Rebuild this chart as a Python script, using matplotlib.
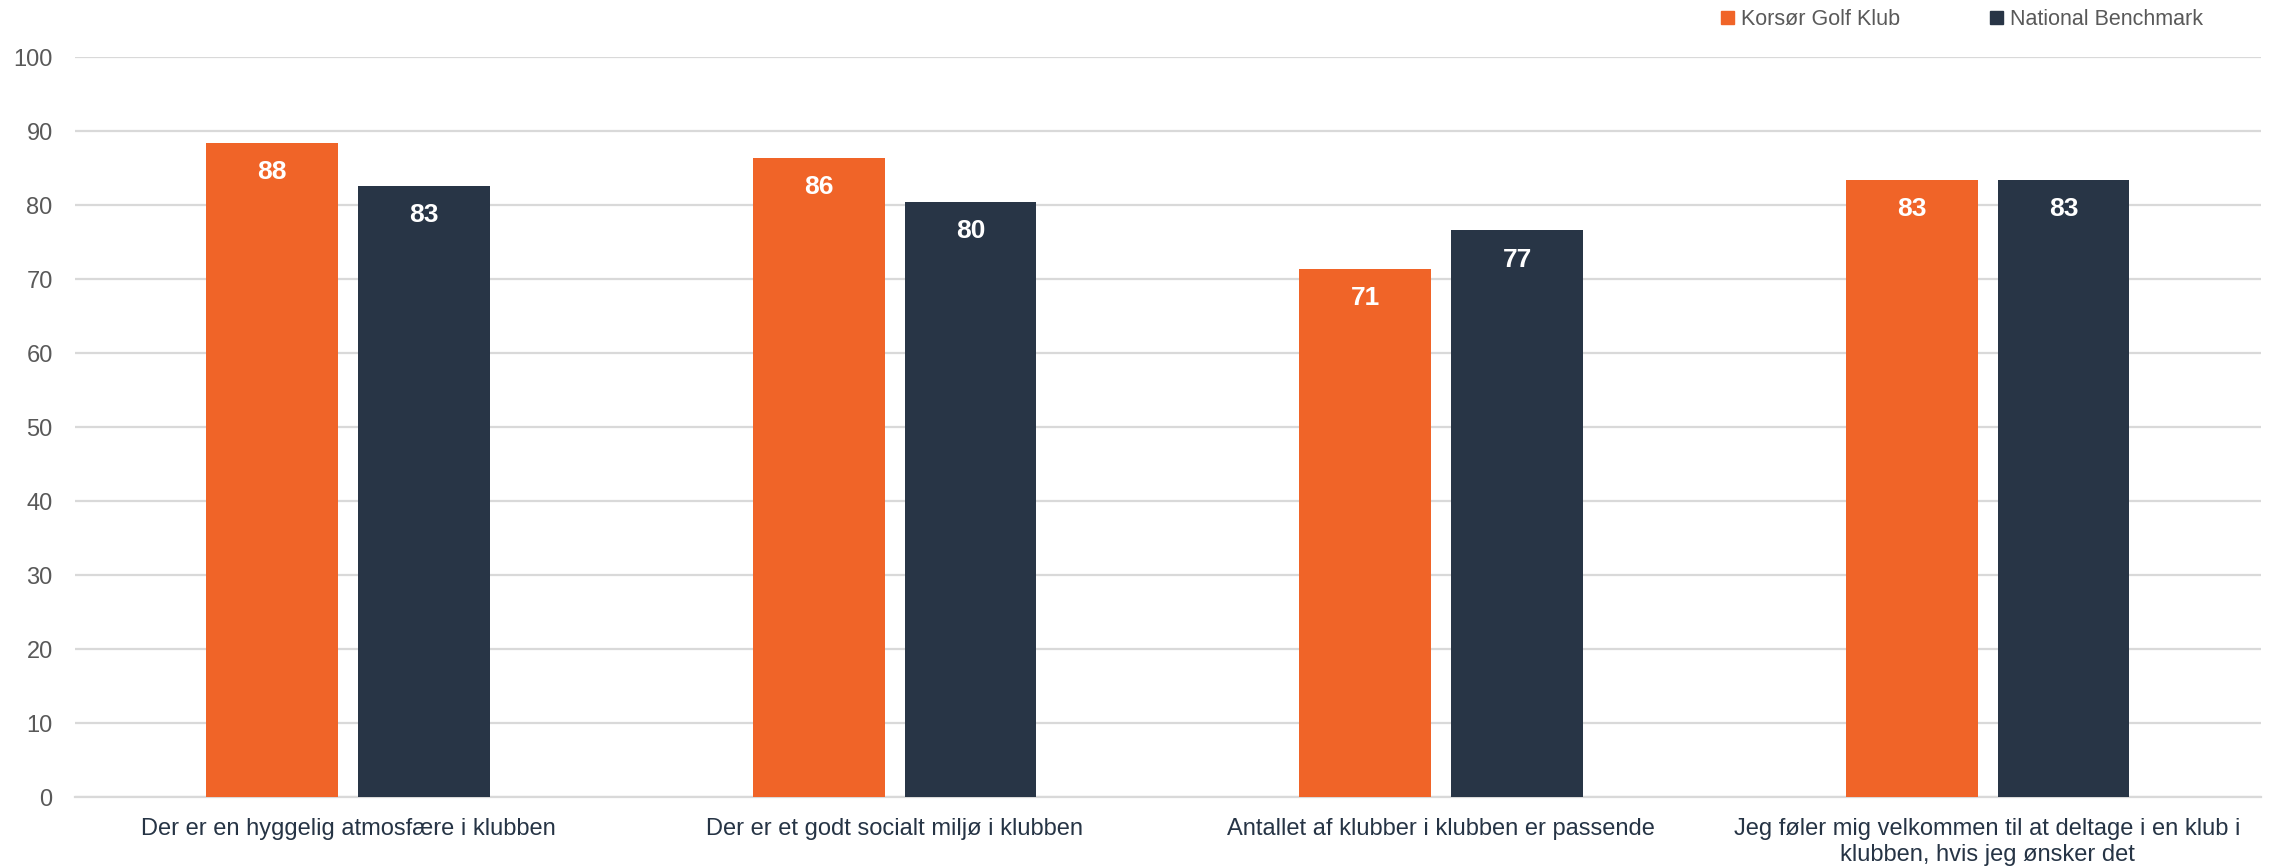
import numpy as np
import matplotlib
matplotlib.use("Agg")
import matplotlib.pyplot as plt
from matplotlib.patches import Patch

plt.rcParams['font.family'] = ['Liberation Sans', 'DejaVu Sans']

# data
categories = [
    "Der er en hyggelig atmosfære i klubben",
    "Der er et godt socialt miljø i klubben",
    "Antallet af klubber i klubben er passende",
    "Jeg føler mig velkommen til at deltage i en klub i\nklubben, hvis jeg ønsker det",
]
series_names = ["Korsør Golf Klub", "National Benchmark"]
korsoer = [88.4, 86.4, 71.4, 83.4]
benchmark = [82.6, 80.4, 76.6, 83.4]
yticks = [0, 10, 20, 30, 40, 50, 60, 70, 80, 90, 100]

orange = "#F06428"
navy = "#283546"

fig = plt.figure(figsize=(22.7, 8.67), dpi=100)
ax = fig.add_axes([0.033, 0.0804, 0.963, 0.8536])

x = np.arange(len(categories))
w = 0.241
off = 0.139
b1 = ax.bar(x - off, korsoer, w, color=orange, zorder=3)
b2 = ax.bar(x + off, benchmark, w, color=navy, zorder=3)

# value labels inside the bar tops
for bars, vals in ((b1, korsoer), (b2, benchmark)):
    for rect, v in zip(bars, vals):
        ax.annotate(f"{round(v):d}", (rect.get_x() + rect.get_width() / 2, v),
                    xytext=(0, -21), textcoords="offset points",
                    ha="center", va="center", color="white",
                    fontsize=19, fontweight="bold", zorder=4)

ax.set_xlim(-0.5, len(categories) - 0.5)
ax.set_ylim(0, 100)
ax.set_yticks(yticks)
ax.set_xticks(x)
ax.set_xticklabels(categories, fontsize=17, color="#263445", linespacing=1.2)
ax.tick_params(axis="y", length=0, pad=16, labelsize=17, labelcolor="#595959")
ax.tick_params(axis="x", length=0, pad=15)

ax.grid(axis="y", color="#d9d9d9", linewidth=1.6, zorder=0)
for s in ("top", "right", "left"):
    ax.spines[s].set_visible(False)
ax.spines["bottom"].set_color("#d9d9d9")
ax.spines["bottom"].set_linewidth(1.6)

handles = [Patch(color=orange), Patch(color=navy)]
fig.legend(handles, series_names, loc="upper left",
           bbox_to_anchor=(1702 / 2270, 1.012), ncol=2, frameon=False,
           fontsize=15.5, labelcolor="#595959", handlelength=0.6,
           handleheight=0.6, handletextpad=0.3, columnspacing=4.2)

fig.savefig("out.png", dpi=100)
